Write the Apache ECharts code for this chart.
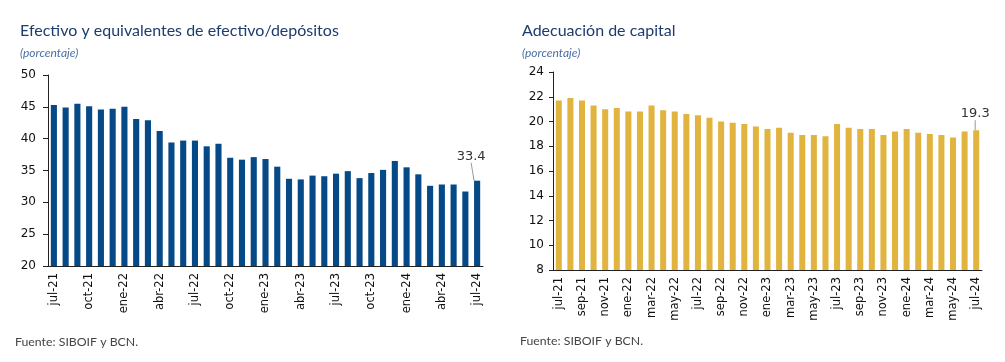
<!DOCTYPE html>
<html>
<head>
<meta charset="utf-8">
<script src="https://cdn.jsdelivr.net/npm/echarts@6/dist/echarts.min.js"></script>
<style>html,body{margin:0;padding:0;background:#fff;}#c{width:1005px;height:362px;}</style>
</head>
<body>
<div id="c"></div>
<script>
const months = ['jul-21','ago-21','sep-21','oct-21','nov-21','dic-21','ene-22','feb-22','mar-22','abr-22','may-22','jun-22','jul-22','ago-22','sep-22','oct-22','nov-22','dic-22','ene-23','feb-23','mar-23','abr-23','may-23','jun-23','jul-23','ago-23','sep-23','oct-23','nov-23','dic-23','ene-24','feb-24','mar-24','abr-24','may-24','jun-24','jul-24'];
const efectivo = [45.3,44.9,45.5,45.1,44.6,44.7,45.0,43.1,42.9,41.2,39.4,39.7,39.7,38.8,39.2,37.0,36.7,37.1,36.8,35.6,33.7,33.6,34.2,34.1,34.5,34.9,33.8,34.6,35.1,36.5,35.5,34.4,32.6,32.8,32.8,31.7,33.4];
const capital = [21.7,21.9,21.7,21.3,21.0,21.1,20.8,20.8,21.3,20.9,20.8,20.6,20.5,20.3,20.0,19.9,19.8,19.6,19.4,19.5,19.1,18.9,18.9,18.8,19.8,19.5,19.4,19.4,18.9,19.2,19.4,19.1,19.0,18.9,18.7,19.2,19.3];
const leftTicks = {min:20, max:50, interval:5};
const rightTicks = {min:8, max:24, interval:2};

const chart = echarts.init(document.getElementById('c'));
const axisCol = '#222';
function lastLabel(arr){
  return arr.map((v,i)=> i===arr.length-1 ? {value:v, label:{show:true, position:'top', color:'#333', fontSize:13, fontFamily:'DejaVu Sans', formatter: (p)=>p.value.toFixed(1)}, labelLine:{show:true, lineStyle:{color:'#999', width:1}}} : v);
}
const titleStyle = {fontFamily:'Lato', fontSize:16, fontWeight:'normal', color:'#1c3c6e'};
const subStyle = {fontFamily:'Lato', fontStyle:'italic', fontSize:12, color:'#4c6fa3'};
const srcStyle = {fontFamily:'Lato', fontSize:12.3, fontWeight:'normal', color:'#444'};
chart.setOption({
  animation:false,
  title:[
    {text:'Efectivo y equivalentes de efectivo/depósitos', left:20, top:23, padding:0, textStyle:titleStyle,
     subtext:'(porcentaje)', itemGap:8, subtextStyle:subStyle},
    {text:'Adecuación de capital', left:522, top:23, padding:0, textStyle:titleStyle,
     subtext:'(porcentaje)', itemGap:8, subtextStyle:subStyle},
    {text:'Fuente: SIBOIF y BCN.', left:15, top:336, padding:0, textStyle:srcStyle},
    {text:'Fuente: SIBOIF y BCN.', left:520, top:335, padding:0, textStyle:srcStyle}
  ],
  grid:[
    {left:48, top:75, width:435, height:191},
    {left:553, top:72, width:429, height:198}
  ],
  xAxis:[
    {type:'category', gridIndex:0, data:months, boundaryGap:true,
     axisLine:{lineStyle:{color:axisCol, width:1}},
     axisTick:{interval:2, length:4, lineStyle:{color:axisCol}},
     axisLabel:{interval:2, rotate:90, fontSize:11.5, fontFamily:'DejaVu Sans', color:'#111', margin:7}},
    {type:'category', gridIndex:1, data:months, boundaryGap:true,
     axisLine:{lineStyle:{color:axisCol, width:1}},
     axisTick:{interval:1, length:4, lineStyle:{color:axisCol}},
     axisLabel:{interval:1, rotate:90, fontSize:11.5, fontFamily:'DejaVu Sans', color:'#111', margin:7}}
  ],
  yAxis:[
    {type:'value', gridIndex:0, min:leftTicks.min, max:leftTicks.max, interval:leftTicks.interval,
     splitLine:{show:false}, axisLine:{show:true, lineStyle:{color:axisCol}},
     axisTick:{show:true, length:5, lineStyle:{color:axisCol}},
     axisLabel:{fontSize:12, fontFamily:'DejaVu Sans', color:'#111', margin:12}},
    {type:'value', gridIndex:1, min:rightTicks.min, max:rightTicks.max, interval:rightTicks.interval,
     splitLine:{show:false}, axisLine:{show:true, lineStyle:{color:axisCol}},
     axisTick:{show:true, length:4, lineStyle:{color:axisCol}},
     axisLabel:{fontSize:12, fontFamily:'DejaVu Sans', color:'#111', margin:9}}
  ],
  series:[
    {type:'bar', xAxisIndex:0, yAxisIndex:0, data:lastLabel(efectivo), barWidth:'52%',
     itemStyle:{color:'#054a86'}, labelLayout:{dx:-6, dy:-13}},
    {type:'bar', xAxisIndex:1, yAxisIndex:1, data:lastLabel(capital), barWidth:'52%',
     itemStyle:{color:'#e0b43e'}, labelLayout:{dx:-1, dy:-5}}
  ]
});
</script>
</body>
</html>
